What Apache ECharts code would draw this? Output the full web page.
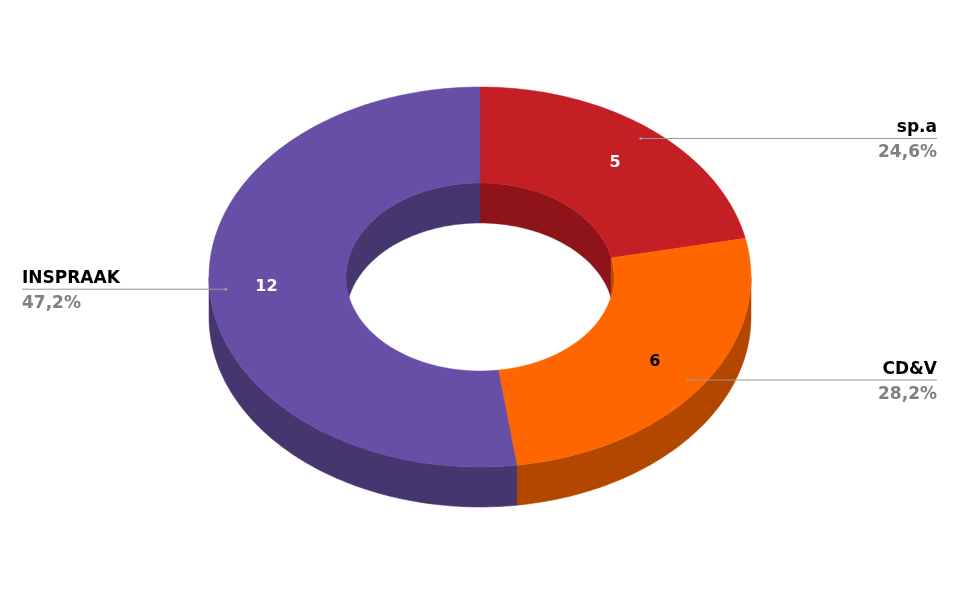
<!DOCTYPE html>
<html><head><meta charset="utf-8">
<script src="https://cdn.jsdelivr.net/npm/echarts@6/dist/echarts.min.js"></script>
<style>html,body{margin:0;background:#fff}#c{width:960px;height:593px}</style>
</head><body><div id="c"></div>
<script>
const categories = ['sp.a', 'CD&V', 'INSPRAAK'];
const values = [5, 6, 12];
const percents = ['24,6%', '28,2%', '47,2%'];
const topColors = ['#c41f24', '#ff6600', '#674ea7'];
const sideColors = ['#8e141a', '#b34700', '#46366f'];
const valueColors = ['#ffffff', '#000000', '#ffffff'];

const cx = 480, cy = 277, rx = 271, ry = 190, irx = 134, iry = 94, depth = 40;
const font = 'DejaVu Sans';

function pt(t, a, b, dy) { return [cx + a * Math.sin(t), cy - b * Math.cos(t) + (dy || 0)]; }
function arc(t0, t1, a, b, dy) {
  const n = Math.max(2, Math.ceil(Math.abs(t1 - t0) / 0.02));
  const out = [];
  for (let i = 0; i <= n; i++) out.push(pt(t0 + (t1 - t0) * i / n, a, b, dy));
  return out;
}

function renderItem(params, api) {
  const total = values.reduce((s, v) => s + v, 0);
  const walls = [], inner = [], tops = [], labels = [];
  let cum = 0;
  values.forEach((s, i) => {
    const a0 = cum / total * 2 * Math.PI;
    cum += s;
    const a1 = cum / total * 2 * Math.PI;
    const lo = Math.max(a0, Math.PI / 2), hi = Math.min(a1, 3 * Math.PI / 2);
    if (lo < hi) walls.push({type: 'polygon', shape: {points: arc(lo, hi, rx, ry, 0).concat(arc(hi, lo, rx, ry, depth))},
      style: {fill: sideColors[i], stroke: sideColors[i], lineWidth: 0.5}});
    [[0, Math.PI / 2], [3 * Math.PI / 2, 2 * Math.PI]].forEach(([r0, r1]) => {
      const l = Math.max(a0, r0), h = Math.min(a1, r1);
      if (l < h) inner.push({type: 'polygon', shape: {points: arc(l, h, irx, iry, 0).concat(arc(h, l, irx, iry, depth))},
        style: {fill: sideColors[i], stroke: sideColors[i], lineWidth: 0.5}});
    });
    tops.push({type: 'polygon', shape: {points: arc(a0, a1, rx, ry, 0).concat(arc(a1, a0, irx, iry, 0))},
      style: {fill: topColors[i], stroke: topColors[i], lineWidth: 0.5}});
    const mid = (a0 + a1) / 2;
    const vp = pt(mid, 214, 147, 0);
    labels.push({type: 'text', x: vp[0], y: vp[1], style: {text: String(values[i]), fill: valueColors[i],
      font: 'bold 16px ' + font, align: 'center', verticalAlign: 'middle'}});
    const ap = pt(mid, rx * 0.94, ry * 0.94, 0);
    const right = Math.sin(mid) >= 0;
    const ex = right ? 937 : 22;
    labels.push({type: 'line', shape: {x1: ap[0], y1: ap[1], x2: ex, y2: ap[1]}, style: {stroke: '#999', lineWidth: 1}});
    labels.push({type: 'circle', shape: {cx: ap[0], cy: ap[1], r: 1.5}, style: {fill: '#999'}});
    labels.push({type: 'text', x: ex, y: ap[1] - 2, style: {text: categories[i], fill: '#000',
      font: 'bold 17px ' + font, align: right ? 'right' : 'left', verticalAlign: 'bottom'}});
    labels.push({type: 'text', x: ex, y: ap[1] + 6, style: {text: percents[i], fill: '#808080',
      font: 'bold 17px ' + font, align: right ? 'right' : 'left', verticalAlign: 'top'}});
  });
  return {type: 'group', children: walls.concat(inner, tops, labels)};
}

const chart = echarts.init(document.getElementById('c'));
chart.setOption({
  animation: false,
  series: [{type: 'custom', coordinateSystem: 'none', renderItem: renderItem, data: [0]}]
});
</script></body></html>
